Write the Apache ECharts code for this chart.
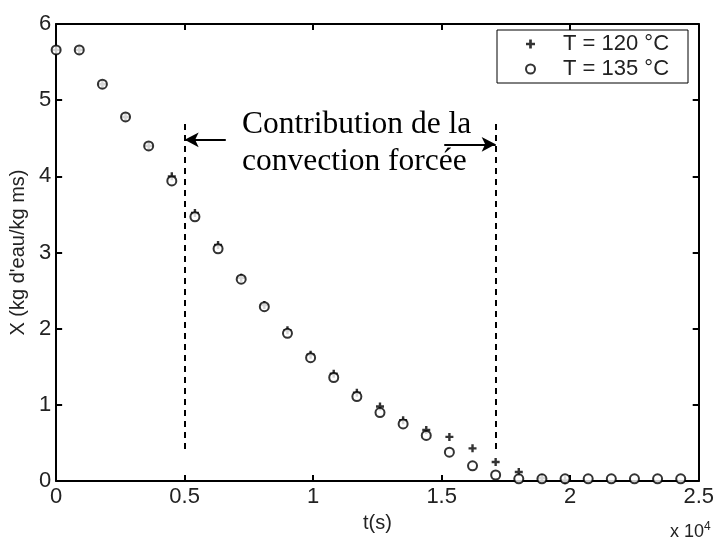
<!DOCTYPE html>
<html>
<head>
<meta charset="utf-8">
<script src="https://cdn.jsdelivr.net/npm/echarts@6/dist/echarts.min.js"></script>
<style>
html,body{margin:0;padding:0;background:#fff;}
#chart{width:717px;height:538px;}
</style>
</head>
<body>
<div id="chart"></div>
<script>
// temps (s), un point toutes les 900 s
var times = [0, 900, 1800, 2700, 3600, 4500, 5400, 6300, 7200, 8100, 9000, 9900, 10800, 11700,
    12600, 13500, 14400, 15300, 16200, 17100, 18000, 18900, 19800, 20700, 21600, 22500, 23400, 24300];
// X (kg d'eau/kg ms)
var x120 = [5.66, 5.66, 5.21, 4.78, 4.40, 4.00, 3.52, 3.10, 2.67, 2.31, 1.98, 1.66, 1.41, 1.16,
    0.98, 0.80, 0.67, 0.58, 0.43, 0.25, 0.12, 0.04, 0.01];
var x135 = [5.66, 5.66, 5.21, 4.78, 4.40, 3.94, 3.47, 3.05, 2.65, 2.29, 1.94, 1.62, 1.36, 1.11,
    0.90, 0.75, 0.60, 0.38, 0.20, 0.08, 0.03, 0.03, 0.03, 0.03, 0.03, 0.03, 0.03, 0.03];
var seriesNames = ['T = 120 °C', 'T = 135 °C'];
var xTicks = ['0', '0.5', '1', '1.5', '2', '2.5'];
// lignes de séparation (convection forcée)
var guideX = [5000, 17100];
var guideY = [0.42, 4.75];
var arrowLeft = [[6600, 4.48], [5000, 4.48]];
var arrowRight = [[15100, 4.42], [17100, 4.42]];

var myChart = echarts.init(document.getElementById('chart'));

function pairs(xs, ys) {
    var out = [];
    for (var i = 0; i < ys.length; i++) {
        out.push([xs[i], ys[i]]);
    }
    return out;
}

var plusPath = 'path://M3.5,0h3v3.5h3.5v3h-3.5v3.5h-3v-3.5h-3.5v-3h3.5z';
var font = 'Liberation Sans';

var axisCommon = {
    axisLine: {show: true, onZero: false, lineStyle: {color: '#000', width: 2}},
    axisTick: {show: true, inside: true, length: 6, lineStyle: {color: '#000', width: 2}},
    splitLine: {show: false}
};

var option = {
    animation: false,
    backgroundColor: '#fff',
    grid: {left: 54, right: 17, top: 24, bottom: 56},
    legend: {
        orient: 'vertical',
        left: 497,
        top: 30,
        padding: [3, 19, 3, 28],
        itemGap: 3,
        itemWidth: 9,
        itemHeight: 9,
        borderColor: '#000',
        borderWidth: 1,
        backgroundColor: '#fff',
        textStyle: {fontFamily: font, fontSize: 22, color: '#222', padding: [0, 0, 0, 23]},
        data: seriesNames
    },
    xAxis: [
        echarts.util.merge({
            type: 'value', min: 0, max: 25000, interval: 5000,
            name: 't(s)', nameLocation: 'middle', nameGap: 27,
            nameTextStyle: {fontFamily: font, fontSize: 20, color: '#222'},
            axisLabel: {
                fontFamily: font, fontSize: 22, color: '#222', margin: 5,
                formatter: function (v) { return xTicks[Math.round(v / 5000)]; }
            }
        }, axisCommon),
        echarts.util.merge({
            type: 'value', position: 'top', min: 0, max: 25000, interval: 5000,
            axisLabel: {show: false}
        }, axisCommon)
    ],
    yAxis: [
        echarts.util.merge({
            type: 'value', min: 0, max: 6, interval: 1,
            name: "X (kg d'eau/kg ms)", nameLocation: 'middle', nameGap: 26, nameRotate: 90,
            nameTextStyle: {fontFamily: font, fontSize: 20, color: '#222'},
            axisLabel: {fontFamily: font, fontSize: 22, color: '#222', margin: 5}
        }, axisCommon),
        echarts.util.merge({
            type: 'value', position: 'right', min: 0, max: 6, interval: 1,
            axisLabel: {show: false}
        }, axisCommon)
    ],
    series: [
        {
            name: seriesNames[0],
            type: 'scatter',
            symbol: plusPath,
            symbolSize: 8,
            itemStyle: {color: '#000'},
            data: pairs(times, x120),
            z: 3
        },
        {
            name: seriesNames[1],
            type: 'scatter',
            symbol: 'emptyCircle',
            symbolSize: 9,
            itemStyle: {color: '#000', borderColor: '#000', borderWidth: 2.5},
            data: pairs(times, x135),
            z: 3,
            markLine: {
                silent: true,
                animation: false,
                label: {show: false},
                emphasis: {disabled: true},
                data: [
                    [{coord: [guideX[0], guideY[0]], symbol: 'none', lineStyle: {type: [6, 5], width: 2, color: '#000'}},
                        {coord: [guideX[0], guideY[1]], symbol: 'none'}],
                    [{coord: [guideX[1], guideY[0]], symbol: 'none', lineStyle: {type: [6, 5], width: 2, color: '#000'}},
                        {coord: [guideX[1], guideY[1]], symbol: 'none'}],
                    [{coord: arrowLeft[0], symbol: 'none', lineStyle: {type: 'solid', width: 2, color: '#000'}},
                        {coord: arrowLeft[1], symbol: 'arrow', symbolSize: [11, 14]}],
                    [{coord: arrowRight[0], symbol: 'none', lineStyle: {type: 'solid', width: 2, color: '#000'}},
                        {coord: arrowRight[1], symbol: 'arrow', symbolSize: [11, 14]}]
                ]
            }
        }
    ],
    graphic: [
        {
            type: 'text',
            left: 242,
            top: 106,
            style: {
                text: 'Contribution de la\nconvection forcée',
                fontFamily: 'Liberation Serif',
                fontSize: 31.5,
                lineHeight: 37,
                align: 'center',
                fill: '#000'
            }
        },
        {
            type: 'text',
            left: 670,
            top: 521,
            style: {
                text: 'x 10{sup|4}',
                fontFamily: font,
                fontSize: 18,
                fill: '#222',
                rich: {sup: {fontSize: 12, verticalAlign: 'top', padding: [0, 0, 10, 0], fontFamily: font}}
            }
        }
    ]
};

myChart.setOption(option);
</script>
</body>
</html>
